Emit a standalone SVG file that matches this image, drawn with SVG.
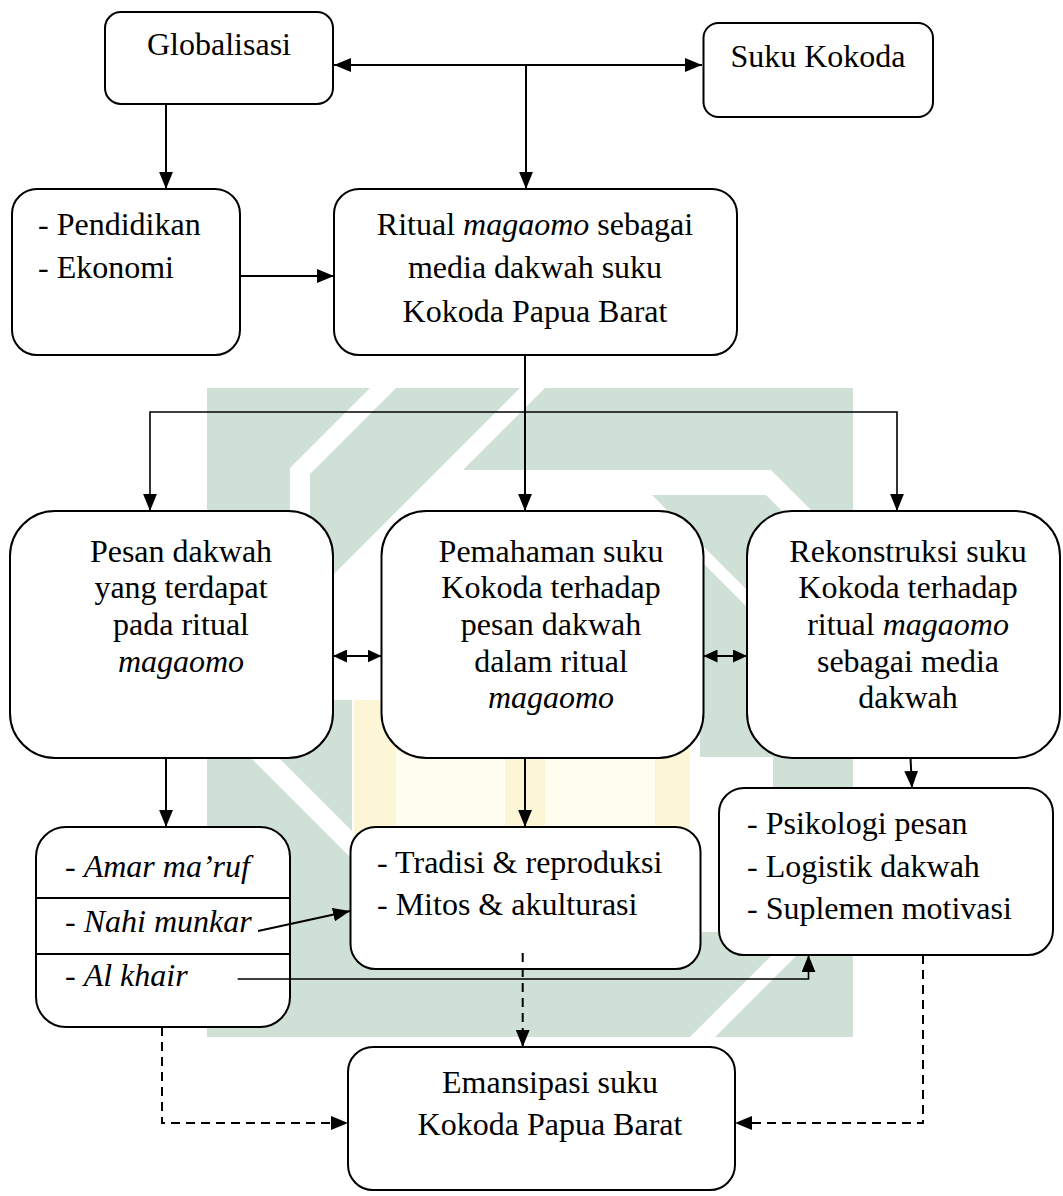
<svg xmlns="http://www.w3.org/2000/svg" width="1063" height="1196" viewBox="0 0 1063 1196" font-family="Liberation Serif, Times New Roman, DejaVu Serif, serif">
<style>
.box{fill:#fff;stroke:#000;stroke-width:2}
.t{font-family:'Liberation Serif','Times New Roman','DejaVu Serif',serif;font-size:32px;fill:#000}
.c{text-anchor:middle}
.i{font-style:italic}
.ln{fill:none;stroke:#000;stroke-width:2}
.thin{stroke-width:1.6}
.dash{stroke-dasharray:9 6}
.g{fill:#cfe0d6}
.w{fill:#fff}
.y1{fill:#fffcf0}
.y2{fill:#fdf6d6}
</style>
<defs>
<marker id="ah" viewBox="0 0 16 13" refX="16" refY="6.5" markerWidth="17" markerHeight="14" markerUnits="userSpaceOnUse" orient="auto-start-reverse"><path d="M0,0L16,6.5L0,13z" fill="#000"/></marker>
<marker id="as" viewBox="0 0 14 13" refX="14" refY="6.5" markerWidth="14" markerHeight="13" markerUnits="userSpaceOnUse" orient="auto-start-reverse"><path d="M0,0L14,6.5L0,13z" fill="#000"/></marker>
</defs>
<rect width="1063" height="1196" fill="#fff"/>
<g id="watermark">
<polygon class="g" points="207,388 370,388 290,468 290,1037 207,1037"/>
<polygon class="g" points="396,388 520,388 310,598 310,474"/>
<polygon class="g" points="545,388 853,388 853,552 771,470 463,470"/>
<polygon class="g" points="652,495 766,495 853,582 853,696"/>
<polygon class="g" points="700,560 853,713 853,932 773,932 773,757 700,757"/>
<rect class="g" x="290" y="700" width="62" height="232"/>
<rect class="g" x="207" y="932" width="646" height="105"/>
<polygon class="w" points="238,745 266,745 366,845 366,873"/>
<polygon class="w" points="690,1037 715,1037 820,932 795,932"/>
<rect class="y1" x="354" y="700" width="336" height="232"/>
<rect class="y2" x="354" y="700" width="42" height="232"/>
<rect class="y2" x="505" y="700" width="40" height="232"/>
<rect class="y2" x="655" y="700" width="35" height="232"/>
</g>
<g id="n-globalisasi"><rect class="box" x="105" y="12" width="228" height="92" rx="16"/><text class="t c" x="219" y="55">Globalisasi</text></g>
<g id="n-suku"><rect class="box" x="703.5" y="23" width="229.5" height="94" rx="15"/><text class="t c" x="818" y="67">Suku Kokoda</text></g>
<g id="n-pendidikan"><rect class="box" x="12" y="189" width="228" height="166" rx="25"/><text class="t" x="38" y="235">- Pendidikan</text><text class="t" x="38" y="278">- Ekonomi</text></g>
<g id="n-ritual"><rect class="box" x="334" y="189" width="403" height="166" rx="25"/><text class="t c" x="535" y="235">Ritual <tspan class="i">magaomo</tspan> sebagai</text><text class="t c" x="535" y="278">media dakwah suku</text><text class="t c" x="535" y="322">Kokoda Papua Barat</text></g>
<g id="n-pesan"><rect class="box" x="10" y="511" width="323" height="247" rx="45"/><text class="t c" x="181" y="562">Pesan dakwah</text><text class="t c" x="181" y="598">yang terdapat</text><text class="t c" x="181" y="635">pada ritual</text><text class="t c i" x="181" y="672">magaomo</text></g>
<g id="n-pemahaman"><rect class="box" x="381.5" y="511" width="322" height="247" rx="45"/><text class="t c" x="551" y="562">Pemahaman suku</text><text class="t c" x="551" y="598">Kokoda terhadap</text><text class="t c" x="551" y="635">pesan dakwah</text><text class="t c" x="551" y="672">dalam ritual</text><text class="t c i" x="551" y="708">magaomo</text></g>
<g id="n-rekonstruksi"><rect class="box" x="747" y="511" width="313" height="247" rx="45"/><text class="t c" x="908" y="562">Rekonstruksi suku</text><text class="t c" x="908" y="598">Kokoda terhadap</text><text class="t c" x="908" y="635">ritual <tspan class="i">magaomo</tspan></text><text class="t c" x="908" y="672">sebagai media</text><text class="t c" x="908" y="708">dakwah</text></g>
<g id="n-amar"><rect class="box" x="36" y="827" width="254" height="200" rx="30"/><line x1="36" y1="898" x2="290" y2="898" stroke="#000" stroke-width="2"/><line x1="36" y1="954" x2="290" y2="954" stroke="#000" stroke-width="2"/><text class="t" x="65" y="877">- <tspan class="i">Amar ma’ruf</tspan></text><text class="t" x="65" y="932">- <tspan class="i">Nahi munkar</tspan></text><text class="t" x="65" y="986">- <tspan class="i">Al khair</tspan></text></g>
<g id="n-tradisi"><rect class="box" x="350.5" y="827" width="350" height="142" rx="25"/><text class="t" x="377" y="873">- Tradisi &amp; reproduksi</text><text class="t" x="377" y="915">- Mitos &amp; akulturasi</text></g>
<g id="n-psikologi"><rect class="box" x="719" y="788" width="334" height="167" rx="25"/><text class="t" x="747" y="834">- Psikologi pesan</text><text class="t" x="747" y="877">- Logistik dakwah</text><text class="t" x="747" y="919">- Suplemen motivasi</text></g>
<g id="n-emansipasi"><rect class="box" x="348" y="1047" width="387" height="143" rx="25"/><text class="t c" x="550" y="1093">Emansipasi suku</text><text class="t c" x="550" y="1135">Kokoda Papua Barat</text></g>
<g id="connectors">
<line class="ln" x1="334" y1="65" x2="702" y2="65" marker-start="url(#ah)" marker-end="url(#ah)"/>
<line class="ln" x1="526" y1="65" x2="526" y2="189" marker-end="url(#ah)"/>
<line class="ln" x1="166" y1="104" x2="166" y2="189" marker-end="url(#ah)"/>
<line class="ln" x1="240" y1="276" x2="334" y2="276" marker-end="url(#ah)"/>
<line class="ln" x1="525" y1="355" x2="525" y2="511" marker-end="url(#ah)"/>
<path class="ln thin" d="M150,511V412H897V511" marker-start="url(#ah)" marker-end="url(#ah)"/>
<line class="ln" x1="333" y1="656" x2="381.5" y2="656" marker-start="url(#as)" marker-end="url(#as)"/>
<line class="ln" x1="703.5" y1="656" x2="747" y2="656" marker-start="url(#as)" marker-end="url(#as)"/>
<line class="ln" x1="166" y1="758" x2="166" y2="827" marker-end="url(#ah)"/>
<line class="ln" x1="525" y1="758" x2="525" y2="827" marker-end="url(#ah)"/>
<line class="ln" x1="910.5" y1="758" x2="912" y2="788" marker-end="url(#ah)"/>
<line class="ln" x1="258" y1="931" x2="350" y2="911" marker-end="url(#ah)"/>
<path class="ln thin" d="M237.6,979H808.5V955" marker-end="url(#ah)"/>
<line class="ln dash" x1="522.7" y1="953" x2="522.7" y2="1047" marker-end="url(#ah)"/>
<path class="ln dash" d="M162,1027V1123H348" marker-end="url(#ah)"/>
<path class="ln dash" d="M923,955V1123H735" marker-end="url(#ah)"/>
</g>
</svg>
